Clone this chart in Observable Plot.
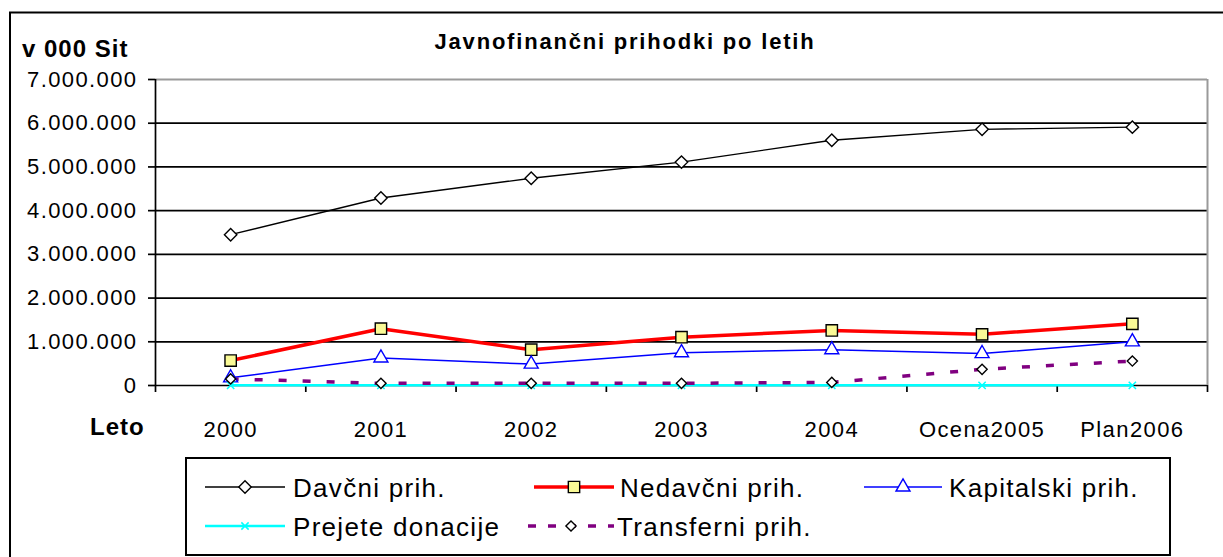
<!DOCTYPE html>
<html>
<head>
<meta charset="utf-8">
<script src="https://cdn.jsdelivr.net/npm/d3@7"></script>
<script src="https://cdn.jsdelivr.net/npm/@observablehq/plot@0.6"></script>
<style>
  html, body { margin: 0; padding: 0; background: #fff; }
  #wrap { position: relative; width: 1223px; height: 557px; overflow: hidden; background: #fff; }
  #chart { position: absolute; left: 0; top: 0; }
  #overlay { position: absolute; left: 0; top: 0; pointer-events: none; }
</style>
</head>
<body>
<div id="wrap">
  <div id="chart"></div>
  <svg id="overlay" width="1223" height="557"></svg>
</div>
<script>
// ---- data ----
const categories = ["2000", "2001", "2002", "2003", "2004", "Ocena2005", "Plan2006"];
const davcni     = [3450000, 4290000, 4740000, 5110000, 5610000, 5860000, 5910000];
const nedavcni   = [570000, 1300000, 820000, 1105000, 1260000, 1170000, 1410000];
const kapitalski = [175000, 630000, 490000, 750000, 820000, 730000, 1000000];
const donacije   = [4000, 4000, 4000, 4000, 4000, 4000, 4000];
const transferni = [150000, 50000, 50000, 50000, 70000, 370000, 560000];
const seriesNames = ["Davčni prih.", "Nedavčni prih.", "Kapitalski prih.", "Prejete donacije", "Transferni prih."];
const yTicks = [0, 1000000, 2000000, 3000000, 4000000, 5000000, 6000000, 7000000];
const titleText = "Javnofinančni prihodki po letih";
const unitText = "v 000 Sit";
const xAxisTitle = "Leto";

// ---- styles ----
const styles = {
  "Davčni prih.":     {stroke: "#000000", width: 1.4, dash: null, symbol: "diamond2", r: 5.6, mFill: "#ffffff", mStroke: "#000000"},
  "Nedavčni prih.":   {stroke: "#ff0000", width: 3.5, dash: null, symbol: "square", r: 6.4, mFill: "#fafa96", mStroke: "#000000"},
  "Kapitalski prih.": {stroke: "#0000ff", width: 1.5, dash: null, symbol: "triangle", r: 5.2, mFill: "#ffffff", mStroke: "#0000ff"},
  "Prejete donacije": {stroke: "#00ffff", width: 2.5, dash: null, symbol: "times", r: 3.4, mFill: "none", mStroke: "#00ffff"},
  "Transferni prih.": {stroke: "#800080", width: 3.5, dash: "8,16", symbol: "diamond2", r: 4.6, mFill: "#ffffff", mStroke: "#000000"}
};

const allValues = [davcni, nedavcni, kapitalski, donacije, transferni];
const rows = [];
seriesNames.forEach((s, k) => allValues[k].forEach((v, i) => rows.push({series: s, i, cat: categories[i], value: v})));

const fmt = d => d === 0 ? "0" : d3.format(",")(d).replace(/,/g, ".");

const marks = [
  Plot.ruleY(yTicks.filter(d => d < 7000000), {stroke: "#000", strokeWidth: 1.7}),
  Plot.ruleY([7000000], {stroke: "#9a9a9a", strokeWidth: 2}),
  Plot.ruleX([6.5], {stroke: "#9a9a9a", strokeWidth: 2}),
  Plot.ruleX([-0.5], {stroke: "#000", strokeWidth: 1.7}),
  Plot.axisY({ticks: yTicks, tickFormat: fmt, tickSize: 7, tickPadding: 11, label: null, strokeWidth: 1.7}),
  Plot.axisX({ticks: d3.range(-0.5, 7, 1), tickFormat: () => "", tickSize: 7, label: null, strokeWidth: 1.7}),
  Plot.axisX({ticks: d3.range(0, 7), tickFormat: i => categories[i], tickSize: 0, tickPadding: 36, label: null})
];
seriesNames.forEach(s => {
  const st = styles[s];
  marks.push(Plot.line(rows.filter(d => d.series === s), {
    x: "i", y: "value", stroke: st.stroke, strokeWidth: st.width,
    strokeDasharray: st.dash, strokeLinecap: "butt", strokeLinejoin: "round"
  }));
});
seriesNames.forEach(s => {
  const st = styles[s];
  marks.push(Plot.dot(rows.filter(d => d.series === s), {
    x: "i", y: "value", symbol: () => st.symbol, r: st.r,
    fill: st.mFill, stroke: st.mStroke, strokeWidth: st.symbol === "times" ? 1.5 : 1.4
  }));
});

const chart = Plot.plot({
  width: 1223,
  height: 450,
  marginLeft: 155,
  marginRight: 16,
  marginTop: 79,
  marginBottom: 65,
  x: {type: "linear", domain: [-0.5, 6.5], label: null},
  y: {type: "linear", domain: [0, 7000000], label: null},
  symbol: {type: "identity"},
  style: {fontFamily: "'Liberation Sans', Arial, sans-serif", fontSize: "22px", letterSpacing: "1.4px", color: "#000", background: "transparent"},
  marks
});
document.getElementById("chart").appendChild(chart);

// ---- overlay: frame, titles, legend ----
const ov = d3.select("#overlay");
ov.append("rect").attr("x", 10).attr("y", 12.5).attr("width", 1400).attr("height", 800)
  .attr("fill", "none").attr("stroke", "#000").attr("stroke-width", 2);
const fam = "'Liberation Sans', Arial, sans-serif";
ov.append("text").attr("x", 625).attr("y", 49).attr("text-anchor", "middle")
  .attr("font-family", fam).attr("font-weight", "bold").attr("font-size", 22)
  .attr("letter-spacing", "1.8px").text(titleText);
ov.append("text").attr("x", 22).attr("y", 57)
  .attr("font-family", fam).attr("font-weight", "bold").attr("font-size", 24)
  .attr("letter-spacing", "1px").text(unitText);
ov.append("text").attr("x", 90).attr("y", 435)
  .attr("font-family", fam).attr("font-weight", "bold").attr("font-size", 24)
  .attr("letter-spacing", "1px").text(xAxisTitle);

ov.append("rect").attr("x", 186).attr("y", 458).attr("width", 984).attr("height", 97)
  .attr("fill", "#fff").attr("stroke", "#000").attr("stroke-width", 2);
const legendPos = [
  {x1: 205, x2: 285, tx: 293, y: 487},
  {x1: 534, x2: 614, tx: 620, y: 487},
  {x1: 864, x2: 942, tx: 949, y: 487},
  {x1: 205, x2: 285, tx: 293, y: 526},
  {x1: 528, x2: 614, tx: 617, y: 526}
];
const symMap = {diamond2: d3.symbolDiamond2, square: d3.symbolSquare, triangle: d3.symbolTriangle, times: d3.symbolTimes};
seriesNames.forEach((s, k) => {
  const st = styles[s], p = legendPos[k];
  ov.append("line").attr("x1", p.x1).attr("x2", p.x2).attr("y1", p.y).attr("y2", p.y)
    .attr("stroke", st.stroke).attr("stroke-width", st.width)
    .attr("stroke-dasharray", st.dash ? "8,12" : null);
  const cx = (p.x1 + p.x2) / 2;
  ov.append("path").attr("transform", `translate(${cx},${p.y})`)
    .attr("d", d3.symbol(symMap[st.symbol], Math.PI * st.r * st.r)())
    .attr("fill", st.mFill).attr("stroke", st.mStroke).attr("stroke-width", st.symbol === "times" ? 1.5 : 1.4);
  ov.append("text").attr("x", p.tx).attr("y", p.y + 9.5)
    .attr("font-family", fam).attr("font-size", 26)
    .attr("letter-spacing", "1.3px").text(s);
});
</script>
</body>
</html>
